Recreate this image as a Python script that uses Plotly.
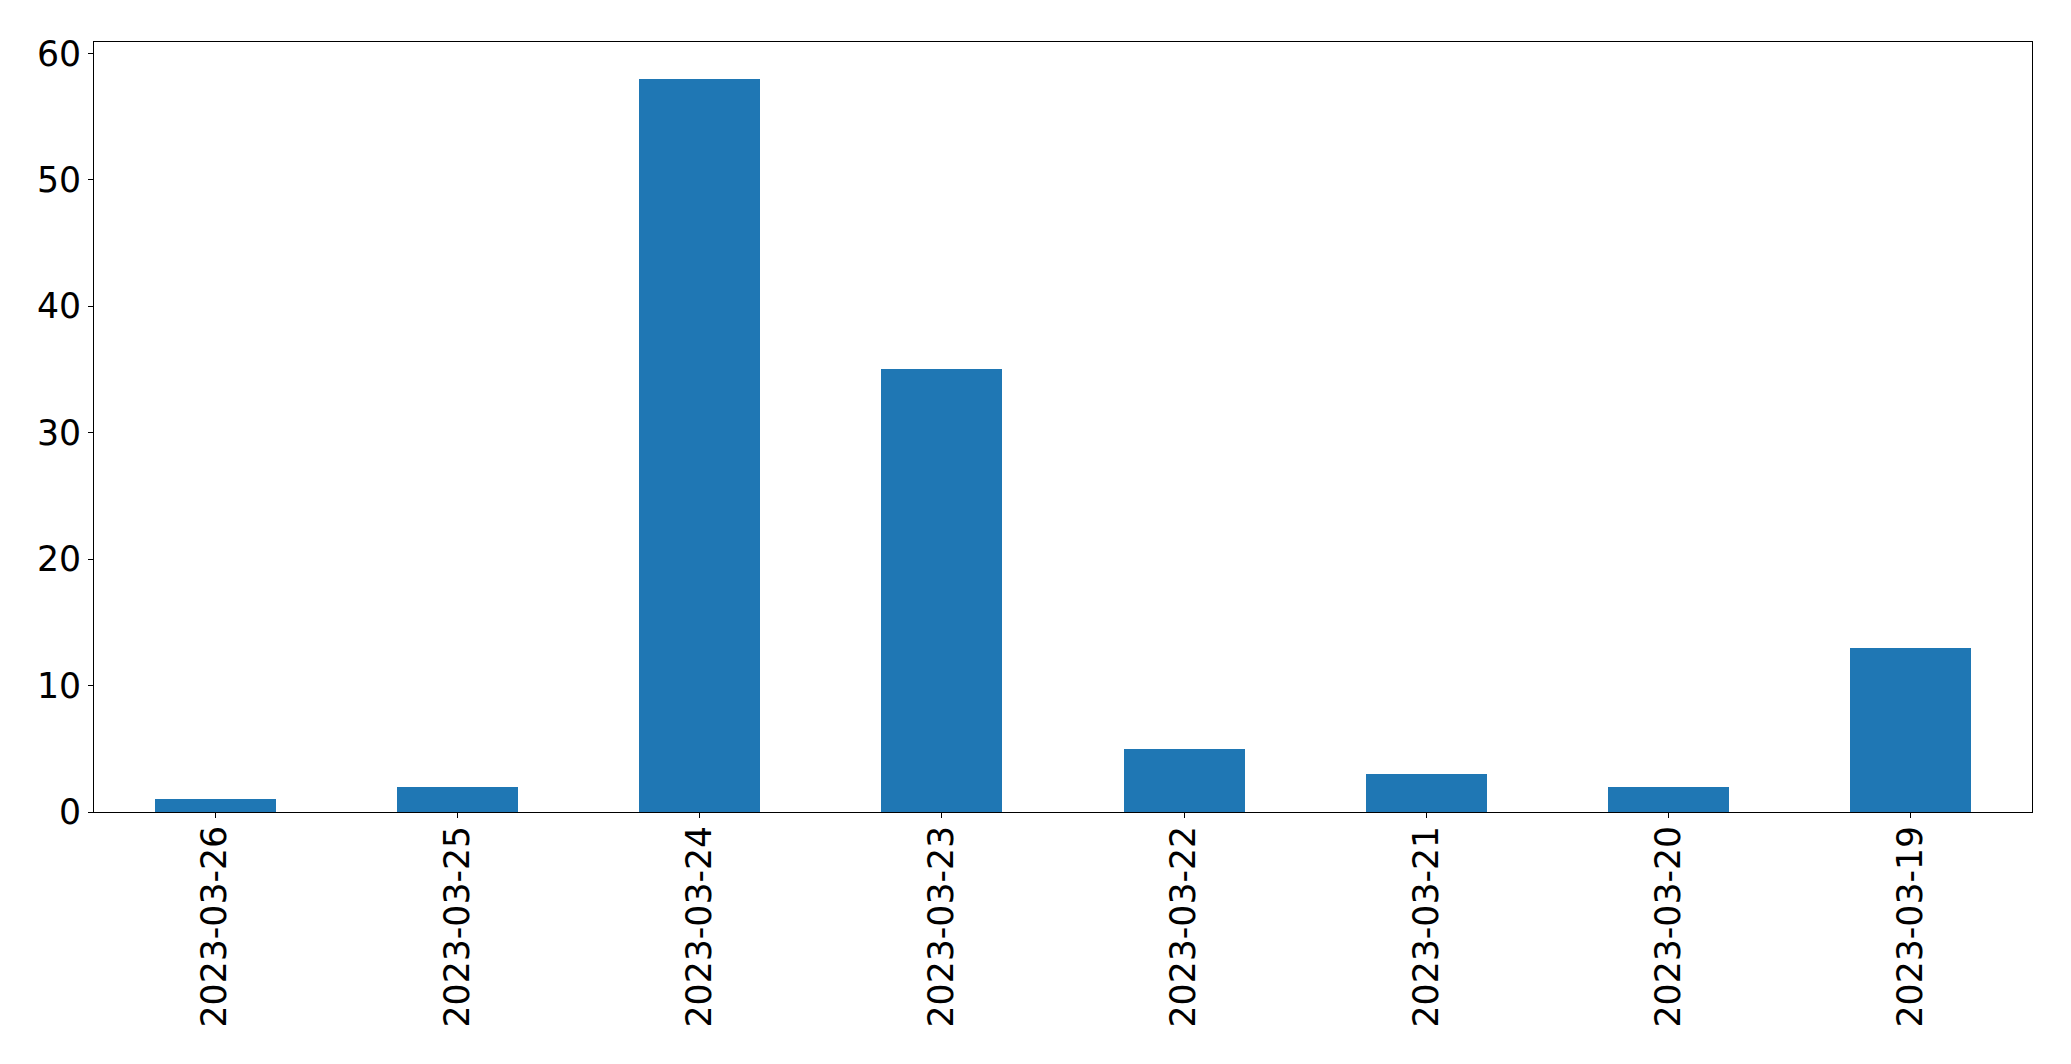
import plotly.graph_objects as go

dates = ["2023-03-26", "2023-03-25", "2023-03-24", "2023-03-23",
         "2023-03-22", "2023-03-21", "2023-03-20", "2023-03-19"]
counts = [1, 2, 58, 35, 5, 3, 2, 13]
y_ticks = [0, 10, 20, 30, 40, 50, 60]

W, H = 2071, 1064
L, R, T, B = 94, 2032, 42, 812

fig = go.Figure(go.Bar(
    x=list(range(len(dates))), y=counts, width=0.5,
    marker=dict(color="#1f77b4", line=dict(width=0)),
))

fig.update_layout(
    width=W, height=H,
    margin=dict(l=L, r=W - R, t=T, b=H - B, pad=0),
    paper_bgcolor="white", plot_bgcolor="white",
    font=dict(family="DejaVu Sans", size=34.7, color="black"),
    showlegend=False,
    bargap=0,
)
fig.update_xaxes(
    range=[-0.5, len(dates) - 0.5],
    tickmode="array", tickvals=list(range(len(dates))), ticktext=dates,
    tickangle=-90, ticks="outside", ticklen=5, tickwidth=1, tickcolor="black",
    ticklabelstandoff=-6,
    showline=True, linecolor="black", linewidth=1, mirror=True,
    showgrid=False, zeroline=False,
)
fig.update_yaxes(
    range=[0, 60.9],
    tickmode="array", tickvals=y_ticks,
    ticks="outside", ticklen=5, tickwidth=1, tickcolor="black",
    ticklabelstandoff=0,
    showline=True, linecolor="black", linewidth=1, mirror=True,
    showgrid=False, zeroline=False,
)

fig.write_html("out.html", config={"displayModeBar": False})

with open("out.html", "r", encoding="utf-8") as f:
    html = f.read()
html = html.replace("<body>", '<body style="margin:0;padding:0;overflow:hidden">', 1)
with open("out.html", "w", encoding="utf-8") as f:
    f.write(html)
